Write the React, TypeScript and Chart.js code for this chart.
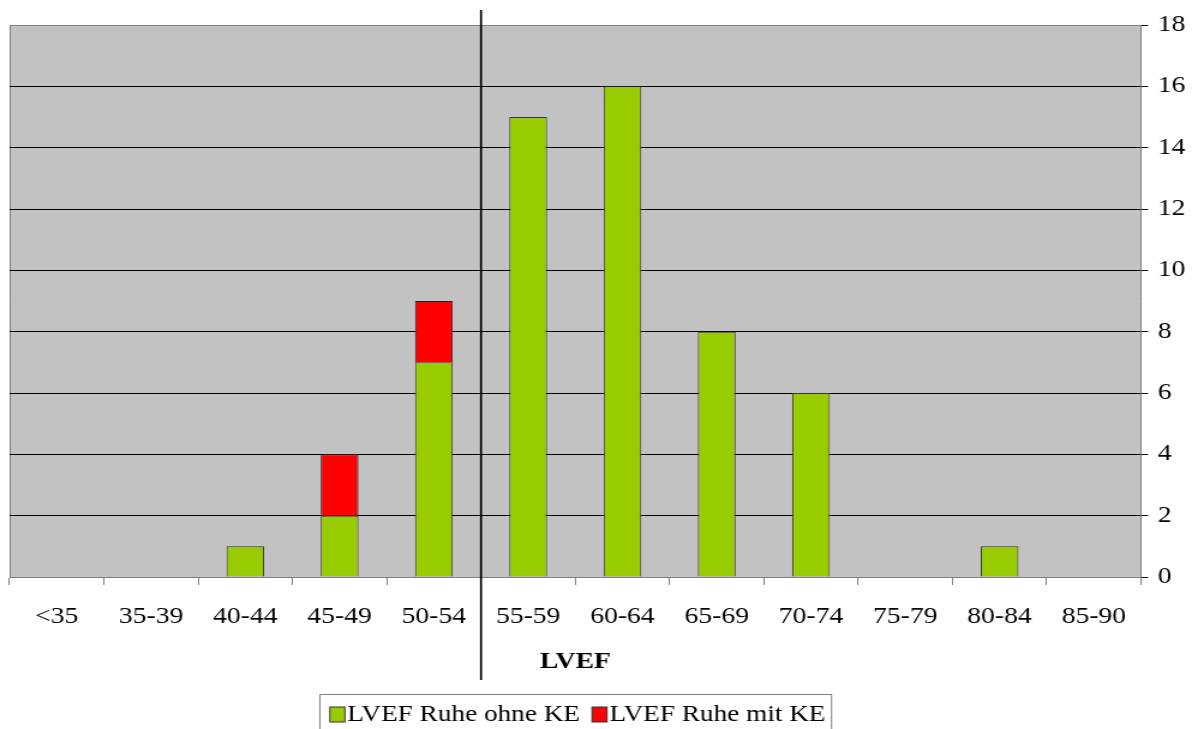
import React, { useEffect, useRef } from "react";
import { Chart, registerables } from "chart.js";

Chart.register(...registerables);

const categories = ["<35", "35-39", "40-44", "45-49", "50-54", "55-59", "60-64", "65-69", "70-74", "75-79", "80-84", "85-90"];
const ohneKE = [0, 0, 1, 2, 7, 15, 16, 8, 6, 0, 1, 0];
const mitKE = [0, 0, 0, 2, 2, 0, 0, 0, 0, 0, 0, 0];
const seriesNames = ["LVEF Ruhe ohne KE", "LVEF Ruhe mit KE"];
const seriesColors = ["#99cc00", "#ff0000"];
const yTicks = [0, 2, 4, 6, 8, 10, 12, 14, 16, 18];
const axisTitle = "LVEF";
const dividerAfterIndex = 4;

const FONT = "'Liberation Serif', 'Times New Roman', serif";
const FS = 23;
const LEGEND_FS = 22.7;
const W = 998;
const H = 729;

const plotPlugin = {
  id: "plotDecor",
  beforeDraw(chart: any) {
    const { ctx, chartArea } = chart;
    const { left, top, right, bottom } = chartArea;
    ctx.save();
    ctx.fillStyle = "#c2c2c2";
    ctx.fillRect(left, top, right - left, bottom - top);
    ctx.strokeStyle = "#808080";
    ctx.lineWidth = 1;
    ctx.beginPath();
    ctx.moveTo(left + 0.5, bottom);
    ctx.lineTo(left + 0.5, top + 0.5);
    ctx.lineTo(right, top + 0.5);
    ctx.stroke();
    ctx.restore();
  },
  afterDraw(chart: any) {
    const { ctx } = chart;
    const xs = chart.scales.x;
    const x = (xs.getPixelForTick(dividerAfterIndex) + xs.getPixelForTick(dividerAfterIndex + 1)) / 2;
    ctx.save();
    ctx.strokeStyle = "#000";
    ctx.lineWidth = 1.7;
    ctx.beginPath();
    ctx.moveTo(x, 10);
    ctx.lineTo(x, 680);
    ctx.stroke();

    // legend
    ctx.font = `${LEGEND_FS}px ${FONT}`;
    ctx.textBaseline = "middle";
    ctx.textAlign = "left";
    const sq = 12.5;
    const sqH = 15;
    const padL = 8.3;
    const padR = 5;
    const gapText = 2;
    const between = 10;
    const ds = chart.data.datasets;
    const widths = ds.map((d: any) => ctx.measureText(d.label).width);
    let total = padL + padR;
    ds.forEach((d: any, i: number) => {
      total += sq + gapText + widths[i] + (i < ds.length - 1 ? between : 0);
    });
    const cx = (chart.chartArea.left + chart.chartArea.right) / 2;
    const boxLeft = Math.round(cx - total / 2) + 0.5;
    const boxTop = 694.5;
    ctx.strokeStyle = "#808080";
    ctx.lineWidth = 1;
    ctx.strokeRect(boxLeft, boxTop, total, 60);
    let px = boxLeft + padL;
    const cy = 714.5;
    ds.forEach((d: any, i: number) => {
      ctx.fillStyle = d.backgroundColor;
      ctx.fillRect(px, cy - sqH / 2, sq, sqH);
      ctx.strokeStyle = "#333";
      ctx.strokeRect(px, cy - sqH / 2, sq, sqH);
      px += sq + gapText;
      ctx.fillStyle = "#000";
      ctx.fillText(d.label, px, cy + 1);
      px += widths[i] + between;
    });
    ctx.restore();
  },
};

export default function App() {
  const ref = useRef<HTMLCanvasElement>(null);
  useEffect(() => {
    if (!ref.current) return;
    const chart = new Chart(ref.current, {
      type: "bar",
      data: {
        labels: categories,
        datasets: [
          {
            label: seriesNames[0],
            data: ohneKE,
            backgroundColor: seriesColors[0],
            borderColor: "#333",
            borderWidth: 1,
            barPercentage: 0.4,
            categoryPercentage: 1,
          },
          {
            label: seriesNames[1],
            data: mitKE,
            backgroundColor: seriesColors[1],
            borderColor: "#222",
            borderWidth: 1,
            barPercentage: 0.4,
            categoryPercentage: 1,
          },
        ],
      },
      options: {
        responsive: false,
        animation: false,
        events: [],
        layout: { padding: { left: 8, right: 0, top: 25, bottom: 52 } },
        plugins: { legend: { display: false }, tooltip: { enabled: false } },
        scales: {
          x: {
            stacked: true,
            offset: true,
            grid: {
              offset: true,
              drawOnChartArea: false,
              drawTicks: true,
              tickLength: 8,
              color: "#808080",
            },
            border: { display: true, color: "#808080" },
            ticks: {
              color: "#000",
              font: { family: FONT, size: FS },
              padding: 18,
              maxRotation: 0,
              autoSkip: false,
            },
            title: {
              display: true,
              text: axisTitle,
              color: "#000",
              font: { family: FONT, size: FS, weight: "bold" },
              padding: { top: 0, bottom: 1 },
            },
            afterFit(scale: any) {
              scale.height = 100;
            },
          },
          y: {
            stacked: true,
            position: "right",
            min: 0,
            max: 18,
            afterBuildTicks(scale: any) {
              scale.ticks = yTicks.map((v) => ({ value: v }));
            },
            grid: {
              color: (c: any) => (c.tick && (c.tick.value === 0 || c.tick.value === 18) ? "#808080" : "#000"),
              tickColor: "#000",
              tickLength: 6,
              lineWidth: 1,
            },
            border: { display: true, color: "#808080" },
            ticks: {
              color: "#000",
              font: { family: FONT, size: FS },
              padding: 8,
            },
            afterFit(scale: any) {
              scale.width = 47.5;
            },
          },
        },
      },
      plugins: [plotPlugin],
    } as any);
    return () => chart.destroy();
  }, []);
  return (
    <div style={{ position: "fixed", left: 0, top: 0, width: 1198, height: 729, background: "#fff" }}>
      <canvas ref={ref} width={W} height={H} style={{ width: "1198px", height: "729px", display: "block" }} />
    </div>
  );
}
